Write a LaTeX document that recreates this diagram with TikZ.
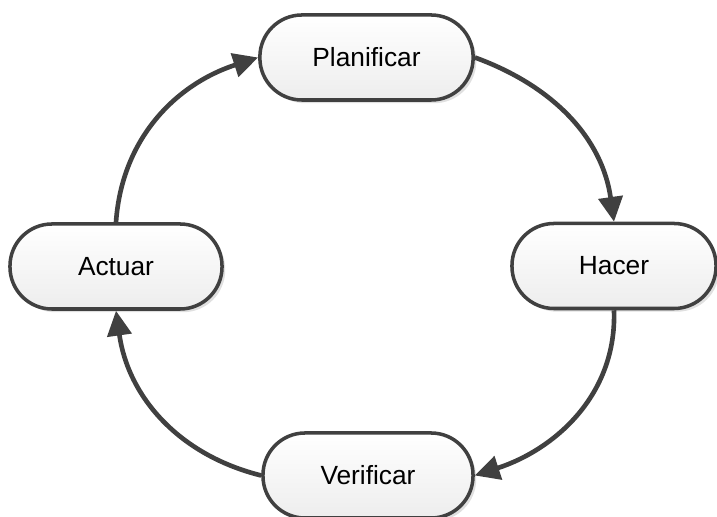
\documentclass[tikz,border=0pt]{standalone}
\usepackage{fontspec}
\setmainfont{Liberation Sans}
\usetikzlibrary{arrows.meta,shadows}
\definecolor{edgegray}{HTML}{404040}
\tikzset{
  stage/.style={draw=edgegray, line width=2.5pt, rounded corners=1.05cm,
    minimum height=2.125cm, top color=white, bottom color=black!7,
    drop shadow={shadow xshift=0.08cm, shadow yshift=-0.08cm,
      fill=black!35, opacity=0.35},
    font=\fontsize{18.7}{22}\selectfont},
  flow/.style={draw=edgegray, line width=3.3pt,
    -{Triangle[length=0.62cm,width=0.6cm]}}
}
\begin{document}
\begin{tikzpicture}[x=0.025cm, y=0.025cm]
    \useasboundingbox (0,0) rectangle (717,517);

    % the four stages
    \node [stage, minimum width=5.33cm] (plan) at (366.5,459.5) {Planificar};
    \node [stage, minimum width=5.1cm] (hacer) at (614,251) {Hacer};
    \node [stage, minimum width=5.25cm] (verif) at (368,41.5) {Verificar};
    \node [stage, minimum width=5.3cm] (actuar) at (116,250.5) {Actuar};

    % arrows round the cycle
    \draw [flow] (plan.east) to [out=-20, in=98] (hacer.north);
    \draw [flow] (hacer.south) to [out=-88, in=18] (verif.east);
    \draw [flow] (verif.west) to [out=166, in=-82] (actuar.south);
    \draw [flow] (actuar.north) to [out=86, in=198] (plan.west);
\end{tikzpicture}
\end{document}
